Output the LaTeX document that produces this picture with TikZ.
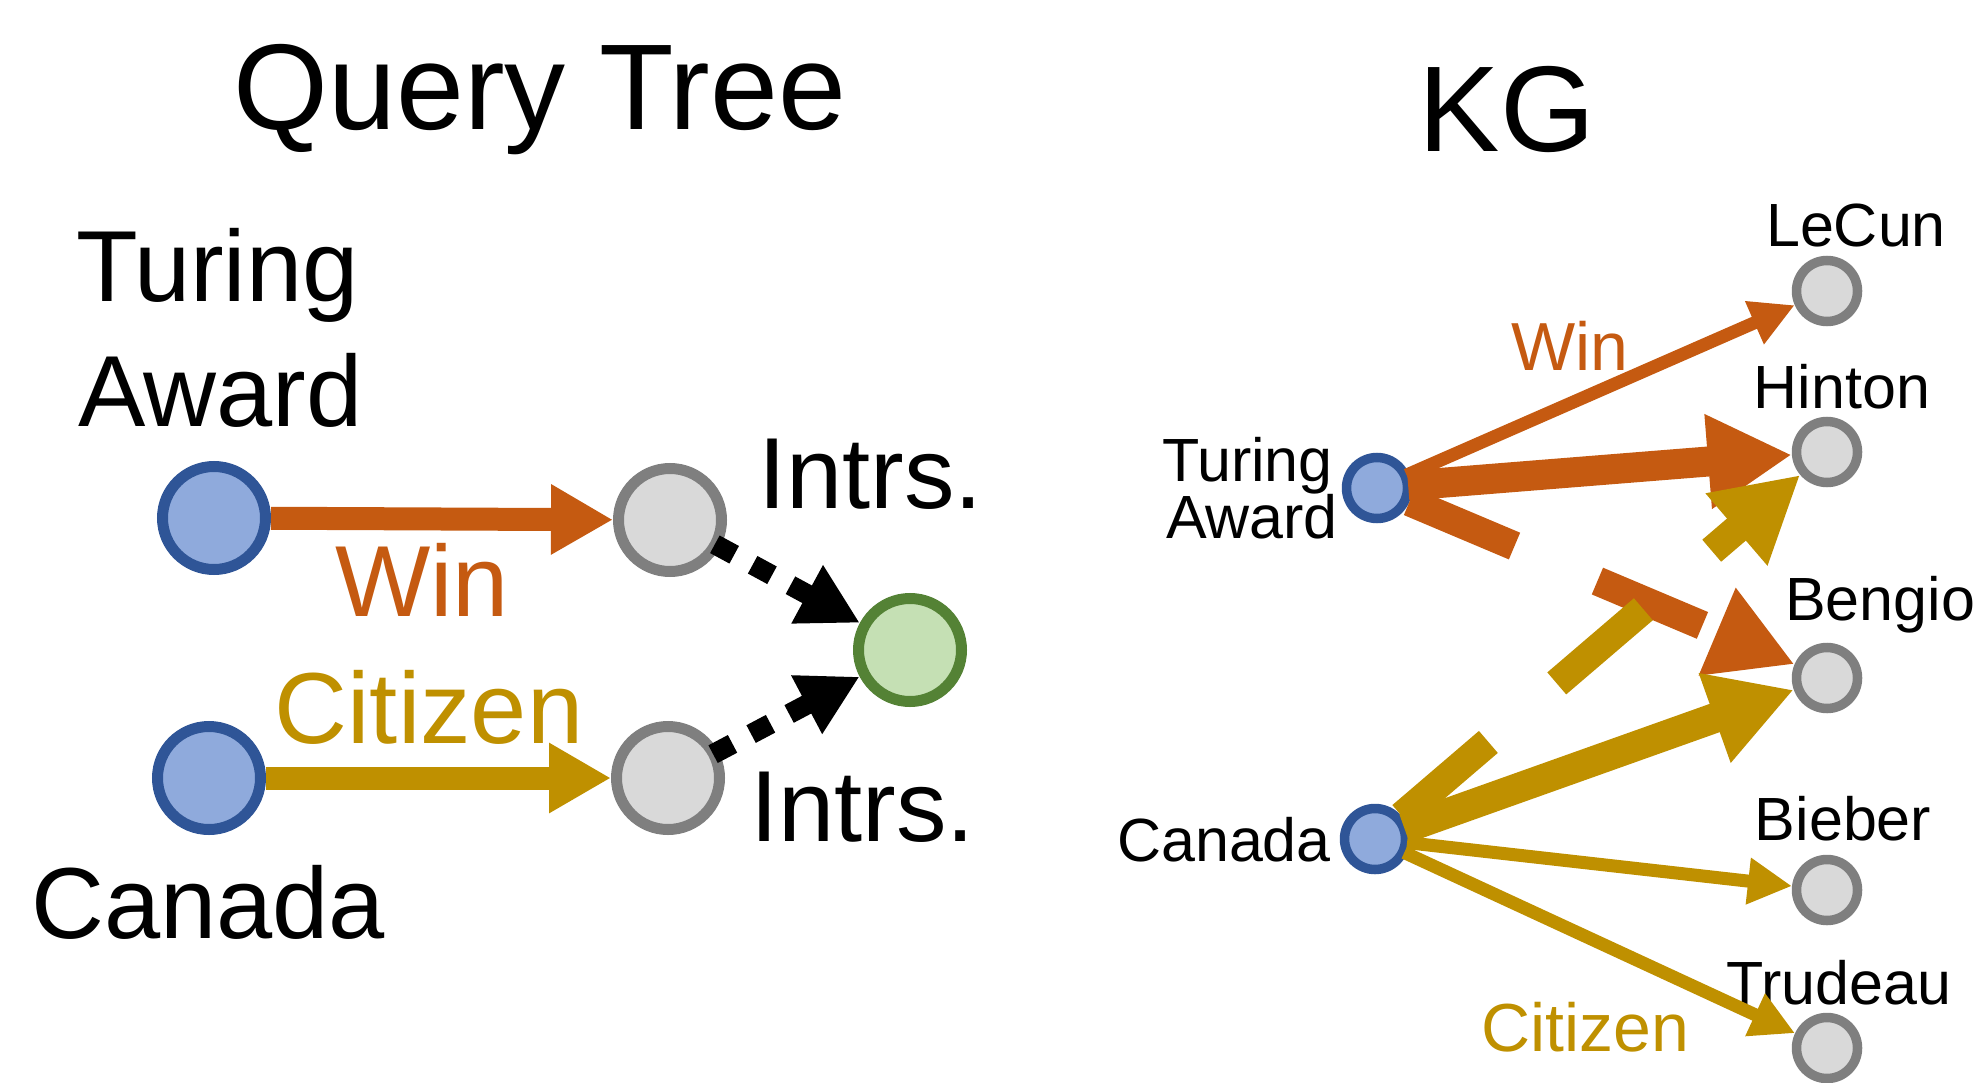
\documentclass[tikz,border=0pt]{standalone}
\usepackage{fontspec}
\setmainfont{Liberation Sans}
\usetikzlibrary{arrows.meta}
\definecolor{cOr}{RGB}{197,90,17}
\definecolor{cGd}{RGB}{191,144,0}
\definecolor{cBf}{RGB}{143,170,220}
\definecolor{cBd}{RGB}{47,85,151}
\definecolor{cGf}{RGB}{217,217,217}
\definecolor{cGb}{RGB}{127,127,127}
\definecolor{cNf}{RGB}{197,224,180}
\definecolor{cNd}{RGB}{84,130,53}
\begin{document}
\begin{tikzpicture}[x=1pt,y=-1pt,
  qnode/.style={circle, minimum size=103pt, inner sep=0pt, line width=11pt},
  knode/.style={circle, minimum size=61pt, inner sep=0pt, line width=9.5pt},
  ent/.style={fill=cBf, draw=cBd},
  var/.style={fill=cGf, draw=cGb},
  tgt/.style={fill=cNf, draw=cNd},
  big/.style={font=\fontsize{122}{140}\selectfont, inner sep=0pt},
  lab/.style={font=\fontsize{101}{120}\selectfont, inner sep=0pt},
  klab/.style={font=\fontsize{61}{70}\selectfont, inner sep=0pt},
  rlab/.style={font=\fontsize{68}{80}\selectfont, inner sep=0pt},
  qarrow/.style={line width=23pt, -{Triangle[length=62pt,width=66pt]}},
  dotarrow/.style={line width=20pt, dash pattern=on 22pt off 21pt, shorten <=-6pt, -{Triangle[length=60pt,width=62pt]}},
  thinarrow/.style={line width=13pt, shorten <=-3pt, -{Triangle[length=44pt,width=44pt]}},
  thickarrow/.style={line width=30pt, shorten <=-4pt, -{Triangle[length=84pt,width=89pt]}},
  dasharrow/.style={line width=29pt, dash pattern=on 114pt off 90pt, -{Triangle[length=84pt,width=89pt]}}
]
\useasboundingbox (0,0) rectangle (1985,1083);

% titles
\node[big, anchor=base] (tQ) at (540,130) {Query Tree};
\node[big, anchor=base] (tK) at (1507,152) {KG};

% query tree nodes
\node[qnode, ent] (qTA) at (214,518) {};
\node[qnode, ent] (qCA) at (209,778) {};
\node[qnode, var] (qI1) at (670,520) {};
\node[qnode, var] (qI2) at (668,778) {};
\node[qnode, tgt] (qX) at (910,650) {};

% query tree labels
\node[lab, anchor=base west] (lT1) at (76,301) {Turing};
\node[lab, anchor=base west] (lT2) at (78,426) {Award};
\node[lab, anchor=base west] (lCa) at (31,938) {Canada};
\node[lab, anchor=base, text=cOr] (lW) at (422,616) {Win};
\node[lab, anchor=base, text=cGd] (lC) at (429,743) {Citizen};
\node[lab, anchor=base west] (lI1) at (758,508) {Intrs.};
\node[lab, anchor=base west] (lI2) at (750,841) {Intrs.};

% query tree edges
\draw[qarrow, cOr] (qTA) -- (qI1);
\draw[qarrow, cGd] (qCA) -- (qI2);
\draw[dotarrow, black] (qI1) -- (qX);
\draw[dotarrow, black] (qI2) -- (qX);

% KG nodes
\node[knode, ent] (kTA) at (1377,488) {};
\node[knode, ent] (kCA) at (1375,839) {};
\node[knode, var] (kLe) at (1827,291) {};
\node[knode, var] (kHi) at (1827,452) {};
\node[knode, var] (kBe) at (1827,678) {};
\node[knode, var] (kBi) at (1827,890) {};
\node[knode, var] (kTr) at (1827,1048) {};

% KG labels
\node[klab, anchor=base] (lLe) at (1856,247) {LeCun};
\node[klab, anchor=base] (lHi) at (1842,408) {Hinton};
\node[klab, anchor=base] (lBe) at (1880,620) {Bengio};
\node[klab, anchor=base] (lBi) at (1843,840) {Bieber};
\node[klab, anchor=base] (lTr) at (1839,1004) {Trudeau};
\node[klab, anchor=base east] (lKT1) at (1333,481) {Turing};
\node[klab, anchor=base east] (lKT2) at (1338,538) {Award};
\node[klab, anchor=base east] (lKC) at (1331,861) {Canada};
\node[rlab, anchor=base, text=cOr] (lKW) at (1570,370) {Win};
\node[rlab, anchor=base, text=cGd] (lKC2) at (1585,1051) {Citizen};

% KG edges
\draw[thinarrow, cOr] (kTA) -- (kLe);
\draw[thickarrow, cOr] (kTA) -- (kHi);
\draw[dasharrow, cOr] (kTA) -- (kBe);
\draw[dasharrow, cGd] (kCA) -- (kHi);
\draw[thickarrow, cGd] (kCA) -- (kBe);
\draw[thinarrow, cGd] (kCA) -- (kBi);
\draw[thinarrow, cGd] (kCA) -- (kTr);
\end{tikzpicture}
\end{document}
